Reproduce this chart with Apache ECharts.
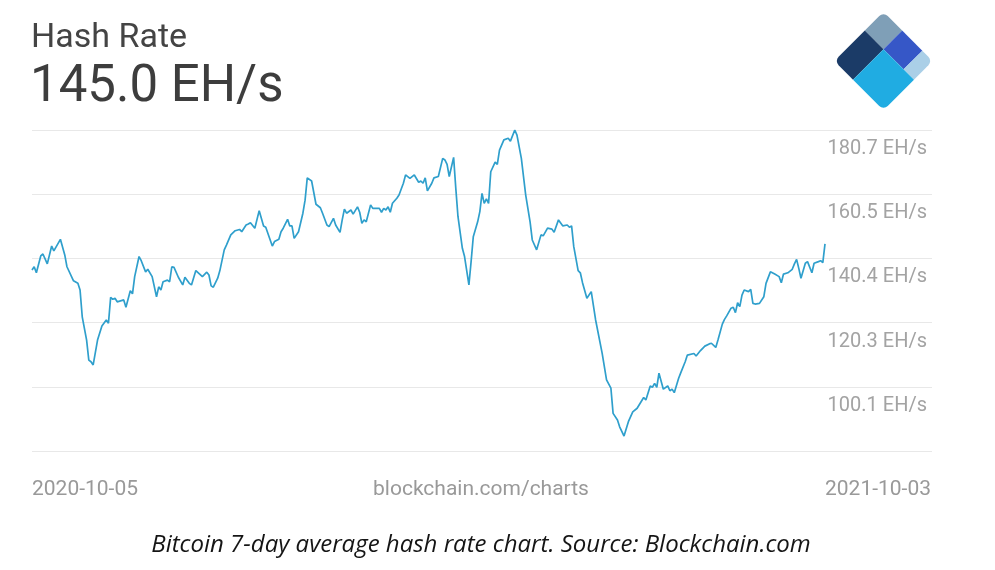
<!DOCTYPE html>
<html>
<head>
<meta charset="utf-8">
<script src="https://cdn.jsdelivr.net/npm/echarts@6/dist/echarts.min.js"></script>
<style>
  html, body { margin: 0; padding: 0; background: #ffffff; }
  #chart { width: 995px; height: 570px; }
</style>
</head>
<body>
<div id="chart"></div>
<script>
// ---- data ----
const START_DATE = '2020-10-05';
const END_DATE = '2021-10-03';
const TITLE = 'Hash Rate';
const CURRENT_VALUE = '145.0 EH/s';
const SOURCE_MARK = 'blockchain.com/charts';
const CAPTION = 'Bitcoin 7-day average hash rate chart. Source: Blockchain.com';

// days since START_DATE
const DAY_OFFSETS = [
  0,1,2,4,5,7,9,10,13,15,16,19,21,22,23,25,26,27,28,30,
  32,34,35,36,37,38,39,42,43,45,46,47,49,50,52,53,55,57,58,59,
  60,62,63,64,65,67,69,70,72,73,75,78,80,81,82,83,85,86,88,89,
  91,93,95,96,98,99,100,102,104,106,107,110,111,113,114,115,117,118,119,120,
  122,124,125,126,128,130,132,133,135,136,138,139,141,142,143,144,146,147,149,150,
  151,152,153,155,156,159,160,161,162,163,164,165,167,168,170,171,173,175,177,178,
  179,180,181,183,184,186,188,189,190,191,193,194,195,197,198,200,201,202,204,205,
  206,207,208,209,210,212,213,214,216,218,219,221,222,224,226,228,229,231,233,234,
  236,238,239,241,243,245,246,247,248,250,251,252,254,256,258,261,263,265,266,268,
  269,271,273,275,277,280,281,283,284,285,286,287,289,291,292,293,294,296,297,299,
  300,303,304,306,308,310,311,313,314,316,317,318,320,321,322,323,324,325,326,328,
  329,330,331,333,335,336,338,340,342,343,344,346,348,349,350,351,352,354,355,357,
  358,360,361,362,363
];
// EH/s, 7-day average
const HASH_RATE = [
  136.8,137.8,135.9,141.2,141.8,138.7,144.3,142.8,146.4,141.5,137.8,133.4,132.6,130.5,122.1,114.8,108.5,108.0,107.0,114.8,
  119.2,121.1,120.1,128.2,127.6,127.9,126.8,127.4,125.1,130.3,129.3,134.7,141.0,139.7,136.2,137.0,134.7,128.4,131.5,130.5,
  133.1,133.6,133.1,137.8,137.6,134.5,132.1,134.5,132.6,132.1,136.6,134.7,136.1,135.2,131.8,131.4,134.2,136.6,143.1,144.6,
  147.8,149.1,149.5,148.8,150.9,151.2,151.6,149.9,155.4,150.6,150.2,144.3,145.7,146.4,148.8,149.9,152.7,150.6,150.6,146.7,
  148.8,154.6,158.7,165.7,164.7,157.4,156.3,154.6,150.9,150.4,153.0,150.9,148.6,152.5,155.9,154.6,155.6,154.3,156.6,154.9,
  151.4,152.5,151.9,157.2,156.1,156.1,154.9,156.1,155.6,156.6,154.9,157.7,159.3,160.3,164.0,166.6,165.5,166.6,164.3,164.7,
  164.0,165.7,161.6,164.0,165.7,166.1,171.8,171.3,169.9,166.1,172.1,162.4,153.5,143.6,141.0,132.1,139.4,147.2,151.9,155.1,
  160.8,157.7,159.1,157.7,167.6,170.6,169.9,174.4,177.6,178.1,177.2,180.7,179.1,171.8,160.3,151.9,146.2,143.1,147.8,147.5,
  149.9,149.6,148.6,152.5,150.6,150.9,150.2,150.6,144.1,136.6,135.9,132.8,127.9,130.0,121.1,110.6,102.3,99.7,91.8,89.7,
  87.6,84.7,89.2,92.3,93.4,96.8,96.0,100.4,100.0,101.2,100.0,104.4,99.4,100.4,98.9,99.4,98.3,102.8,104.6,108.0,
  110.1,110.6,109.8,111.5,112.9,113.6,113.8,112.5,114.8,119.8,121.3,122.4,124.8,125.1,123.4,126.5,125.3,128.9,130.5,130.0,
  130.7,126.3,126.1,126.3,128.4,132.6,136.2,135.5,134.7,132.8,135.5,135.9,137.0,138.7,140.1,137.3,134.2,138.9,139.4,135.9,
  138.9,139.4,139.7,139.1,145.0
];

const Y_MIN = 80.0;
const Y_MAX = 180.7;
const Y_TICK_VALUES = [80.0, 100.14, 120.28, 140.42, 160.56, 180.7];
const Y_TICK_LABELS = ['', '100.1 EH/s', '120.3 EH/s', '140.4 EH/s', '160.5 EH/s', '180.7 EH/s'];

// ---- build ----
const DAY_MS = 86400000;
const startMs = Date.parse(START_DATE + 'T00:00:00Z');
const endMs = Date.parse(END_DATE + 'T00:00:00Z');
const seriesData = DAY_OFFSETS.map((d, i) => [startMs + d * DAY_MS, HASH_RATE[i]]);

function tickLabel(v) {
  let best = 0, bd = Infinity;
  Y_TICK_VALUES.forEach((t, i) => { const dd = Math.abs(t - v); if (dd < bd) { bd = dd; best = i; } });
  return Y_TICK_LABELS[best];
}

const chart = echarts.init(document.getElementById('chart'), null, { renderer: 'canvas' });

const S = 69.5, h = S / 2;
const sa = -h + 0.38 * S;
const sb = -h + 0.79 * S;
const rr = 6;

chart.setOption({
  animation: false,
  backgroundColor: '#ffffff',
  grid: [
    { left: 32, top: 130, width: 793, height: 321 },
    { left: 32, top: 130, width: 900, height: 321 }
  ],
  xAxis: [
    { type: 'time', gridIndex: 0, min: startMs, max: endMs, show: false },
    { type: 'value', gridIndex: 1, min: 0, max: 1, show: false }
  ],
  yAxis: [
    { type: 'value', gridIndex: 0, min: Y_MIN, max: Y_MAX, show: false, splitLine: { show: false } },
    {
      type: 'value', gridIndex: 1, min: Y_MIN, max: Y_MAX, position: 'right',
      axisLine: { show: false },
      axisTick: { show: false, customValues: Y_TICK_VALUES },
      splitLine: { show: true, lineStyle: { color: '#e8e8e8', width: 1 } },
      axisLabel: {
        customValues: Y_TICK_VALUES.slice(1),
        inside: true,
        margin: 5,
        color: '#a3a3a3',
        fontFamily: 'Roboto',
        fontSize: 20,
        verticalAlign: 'top',
        lineHeight: 20,
        padding: [9, 0, 0, 0],
        formatter: (v) => tickLabel(v)
      }
    }
  ],
  series: [
    {
      type: 'line',
      xAxisIndex: 0,
      yAxisIndex: 0,
      data: seriesData,
      showSymbol: false,
      symbol: 'none',
      smooth: false,
      lineStyle: { color: '#2f9fcc', width: 1.7 },
      z: 3
    }
  ],
  graphic: [
    { type: 'text', x: 31, y: 38, style: { text: TITLE, fontFamily: 'Roboto', fontSize: 34, fill: '#444444', align: 'left', verticalAlign: 'middle' } },
    { type: 'text', x: 30, y: 88, style: { text: CURRENT_VALUE, fontFamily: 'Roboto', fontSize: 51, fill: '#3d3d3d', align: 'left', verticalAlign: 'middle' } },
    { type: 'text', x: 32, y: 490, style: { text: START_DATE, fontFamily: 'Roboto', fontSize: 21, fill: '#999999', align: 'left', verticalAlign: 'middle' } },
    { type: 'text', x: 481, y: 490, style: { text: SOURCE_MARK, fontFamily: 'Roboto', fontSize: 21, fill: '#999999', align: 'center', verticalAlign: 'middle' } },
    { type: 'text', x: 931, y: 490, style: { text: END_DATE, fontFamily: 'Roboto', fontSize: 21, fill: '#999999', align: 'right', verticalAlign: 'middle' } },
    { type: 'text', x: 481, y: 545, style: { text: CAPTION, fontFamily: 'Open Sans', fontStyle: 'italic', fontSize: 24, fill: '#151515', align: 'center', verticalAlign: 'middle' } },
    {
      type: 'group', x: 883.5, y: 61, rotation: -Math.PI / 4,
      children: [
        { type: 'rect', shape: { x: -h, y: -h, width: sa + h, height: sa + h, r: [rr, 0, 0, 0] }, style: { fill: '#7f9fb7' } },
        { type: 'rect', shape: { x: -h, y: sa, width: sa + h, height: h - sa, r: [0, 0, 0, rr] }, style: { fill: '#1b3b67' } },
        { type: 'rect', shape: { x: sa, y: -h, width: sb - sa, height: sa + h, r: 0 }, style: { fill: '#3657c7' } },
        { type: 'rect', shape: { x: sb, y: -h, width: h - sb, height: sa + h, r: [0, rr, 0, 0] }, style: { fill: '#aacfe7' } },
        { type: 'rect', shape: { x: sa, y: sa, width: h - sa, height: h - sa, r: [0, 0, rr, 0] }, style: { fill: '#20ace2' } }
      ]
    }
  ]
});
</script>
</body>
</html>
